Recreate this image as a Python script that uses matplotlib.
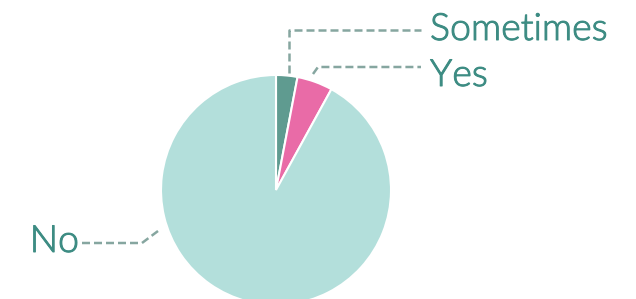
import matplotlib
matplotlib.use("Agg")
import matplotlib.pyplot as plt
import matplotlib.patheffects as pe

labels = ["Sometimes", "Yes", "No"]
shares = [3, 5, 92]
colors = ["#5f9b90", "#e96ba7", "#b3dfdb"]

W, H = 636, 299
fig = plt.figure(figsize=(W / 100, H / 100), dpi=100)
ax = fig.add_axes([0, 0, 1, 1])

cx, cy, r = 276, H - 190, 115
ax.pie(shares, colors=colors, startangle=90, counterclock=False,
       center=(cx, cy), radius=r,
       wedgeprops=dict(edgecolor="white", linewidth=1.5))
ax.set_xlim(0, W)
ax.set_ylim(0, H)
ax.set_aspect("equal")
ax.axis("off")

line_kw = dict(color="#86a6a0", lw=1.8, linestyle=(0, (3.2, 1.6)))
txt_color = "#3d8c83"
txt_kw = dict(color=txt_color, fontsize=27, family="Lato", fontweight=300,
              va="center",
              path_effects=[pe.withStroke(linewidth=0.7, foreground=txt_color)])

# Sometimes
ax.plot([289, 289, 421], [H - 73, H - 30, H - 30], **line_kw)
ax.text(430, H - 30, labels[0], **txt_kw)
# Yes
ax.plot([313, 318, 421], [H - 74, H - 67, H - 67], **line_kw)
ax.text(430, H - 76, labels[1], **txt_kw)
# No
ax.plot([82, 142, 158], [H - 243, H - 243, H - 231], **line_kw)
ax.text(79, H - 242, labels[2], ha="right", **txt_kw)

fig.savefig("out.png", dpi=100)
